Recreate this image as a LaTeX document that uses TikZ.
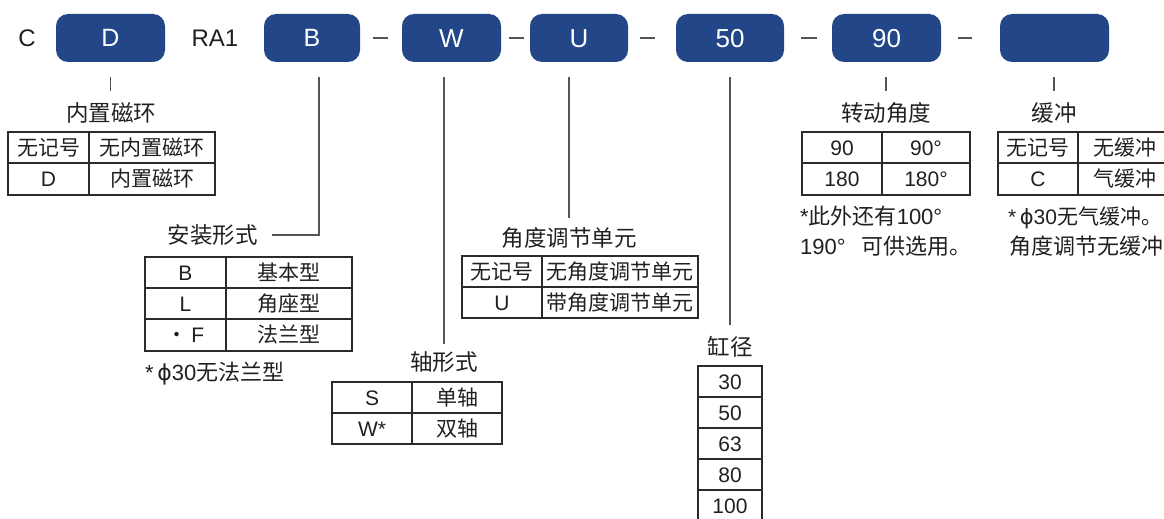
\documentclass[tikz,border=0pt]{standalone}
\usepackage{fontspec}
\setmainfont{Liberation Sans}
\newfontfamily\cjk{Noto Sans CJK SC}
\newfontfamily\djv{DejaVu Sans}
\usetikzlibrary{calc}
\definecolor{boxblue}{RGB}{35,70,137}
\definecolor{ink}{RGB}{35,31,32}
\definecolor{linegray}{RGB}{85,85,85}
\definecolor{tabline}{RGB}{45,42,42}
\newcommand\zh[1]{{\cjk #1}}
\newcommand\phisym{{\djv ϕ}}
\begin{document}
\begin{tikzpicture}[x=1pt,y=-1pt,
  pbox/.style={fill=boxblue, draw=none, rounded corners=12pt, minimum height=48pt,
    inner sep=0pt, text=white, font=\fontsize{25}{29}\selectfont,
    text height=17.9pt, text depth=0pt},
  pboxL/.style={pbox, font=\fontsize{26}{30}\selectfont, text height=18.6pt},
  txt/.style={inner sep=0pt, text=ink, font=\fontsize{24}{28}\selectfont,
    text height=17.2pt, text depth=0pt},
  lab/.style={inner sep=0pt, text=ink, font=\cjk\fontsize{22.5}{26}\selectfont,
    text height=16.2pt, text depth=0pt},
  note/.style={inner sep=0pt, text=ink, anchor=west, font=\fontsize{22}{26}\selectfont,
    text height=15.8pt, text depth=0pt},
  cell/.style={draw=tabline, line width=1.3pt, minimum height=31pt, inner sep=0pt,
    text=ink, font=\fontsize{21}{25}\selectfont, text height=15.2pt, text depth=0pt},
  conn/.style={draw=linegray, line width=1.6pt},
]
\useasboundingbox (0,0) rectangle (1164,519);
\clip (0,0) rectangle (1164,519);

% ---- top row ----
\node[txt] (tC) at (27,38) {C};
\node[pbox, minimum width=109pt] (bD) at (110.5,38) {D};
\node[txt] (tRA) at (215,38) {RA1};
\node[pbox, minimum width=96pt] (bB) at (312,38) {B};
\node[pboxL, minimum width=99pt] (bW) at (451.5,38) {W};
\node[pboxL, minimum width=98pt] (bU) at (579,38) {U};
\node[pboxL, minimum width=108pt] (b50) at (730,38) {50};
\node[pboxL, minimum width=109pt] (b90) at (886.5,38) {90};
\node[pbox, minimum width=109pt] (bC) at (1054.5,38) {};

% dashes
\draw[conn] (373,38) -- (388,38);
\draw[conn] (509,38) -- (524,38);
\draw[conn] (640,38) -- (655,38);
\draw[conn] (801,38) -- (817,38);
\draw[conn] (958,38) -- (972,38);

% ---- labels ----
\node[lab] (lMag) at (111,113) {内置磁环};
\node[lab, anchor=east] (lMount) at (258,235) {安装形式};
\node[lab] (lShaft) at (444,362) {轴形式};
\node[lab] (lAdj) at (569,238) {角度调节单元};
\node[lab] (lBore) at (730,347) {缸径};
\node[lab] (lRot) at (886,113) {转动角度};
\node[lab] (lCush) at (1054,113) {缓冲};

% ---- connectors ----
\draw[conn] ($(bD.south)+(0,15)$) -- ([yshift=14pt]lMag.north -| bD.south);
\draw[conn] ([xshift=7pt,yshift=-15pt]bB.south) |- ([xshift=14pt]lMount.east);
\draw[conn] ($(lShaft.north |- bW.south)+(0,15)$) -- ([yshift=10pt]lShaft.north);
\draw[conn] ($(lAdj.north |- bU.south)+(0,15)$) -- ([yshift=12pt]lAdj.north);
\draw[conn] ($(lBore.north |- b50.south)+(0,15)$) -- ([yshift=14pt]lBore.north);
\draw[conn] ($(lRot.north |- b90.south)+(0,15)$) -- ([yshift=14pt]lRot.north);
\draw[conn] ($(lCush.north |- bC.south)+(0,15)$) -- ([yshift=14pt]lCush.north);

% ---- 内置磁环 table ----
\node[cell, minimum width=81pt] (m11) at (48.5,147.5) {\zh{无记号}};
\node[cell, minimum width=126pt] (m12) at (152,147.5) {\zh{无内置磁环}};
\node[cell, minimum width=81pt, minimum height=32pt] (m21) at (48.5,179) {D};
\node[cell, minimum width=126pt, minimum height=32pt] (m22) at (152,179) {\zh{内置磁环}};

% ---- 安装形式 table ----
\node[cell, minimum width=81pt] (a11) at (185.5,272.5) {B};
\node[cell, minimum width=126pt] (a12) at (289,272.5) {\zh{基本型}};
\node[cell, minimum width=81pt] (a21) at (185.5,303.5) {L};
\node[cell, minimum width=126pt] (a22) at (289,303.5) {\zh{角座型}};
\node[cell, minimum width=81pt, minimum height=32pt] (a31) at (185.5,335) {{\cjk ·}\,F};
\node[cell, minimum width=126pt, minimum height=32pt] (a32) at (289,335) {\zh{法兰型}};
\node[note] (nMount) at (145,373) {*\,\phisym30\zh{无法兰型}};

% ---- 轴形式 table ----
\node[cell, minimum width=80pt] (s11) at (372,397.5) {S};
\node[cell, minimum width=90pt] (s12) at (457,397.5) {\zh{单轴}};
\node[cell, minimum width=80pt] (s21) at (372,428.5) {W*};
\node[cell, minimum width=90pt] (s22) at (457,428.5) {\zh{双轴}};

% ---- 角度调节单元 table ----
\node[cell, minimum width=80pt] (u11) at (502,271.5) {\zh{无记号}};
\node[cell, minimum width=156pt] (u12) at (620,271.5) {\zh{无角度调节单元}};
\node[cell, minimum width=80pt] (u21) at (502,302.5) {U};
\node[cell, minimum width=156pt] (u22) at (620,302.5) {\zh{带角度调节单元}};

% ---- 缸径 table ----
\node[cell, minimum width=64pt] (d1) at (730,381.5) {30};
\node[cell, minimum width=64pt] (d2) at (730,412.5) {50};
\node[cell, minimum width=64pt] (d3) at (730,443.5) {63};
\node[cell, minimum width=64pt] (d4) at (730,474.5) {80};
\node[cell, minimum width=64pt] (d5) at (730,505.5) {100};

% ---- 转动角度 table ----
\node[cell, minimum width=80pt] (r11) at (842,147.5) {90};
\node[cell, minimum width=88pt] (r12) at (926,147.5) {90°};
\node[cell, minimum width=80pt, minimum height=32pt] (r21) at (842,179) {180};
\node[cell, minimum width=88pt, minimum height=32pt] (r22) at (926,179) {180°};
\node[note] (nRot1) at (800,217) {*\zh{此外还有}100°};
\node[note] (nRot2) at (800,247) {190°\hspace{0.7em}\zh{可供选用。}};

% ---- 缓冲 table ----
\node[cell, minimum width=80pt] (c11) at (1038,147.5) {\zh{无记号}};
\node[cell, minimum width=94pt] (c12) at (1125,147.5) {\zh{无缓冲}};
\node[cell, minimum width=80pt, minimum height=32pt] (c21) at (1038,179) {C};
\node[cell, minimum width=94pt, minimum height=32pt] (c22) at (1125,179) {\zh{气缓冲}};
\node[note, font=\fontsize{21}{25}\selectfont] (nCush1) at (1008,217) {*\,\phisym30\zh{无气缓冲。}};
\node[note] (nCush2) at (1009,247) {\zh{角度调节无缓冲}};
\end{tikzpicture}
\end{document}
